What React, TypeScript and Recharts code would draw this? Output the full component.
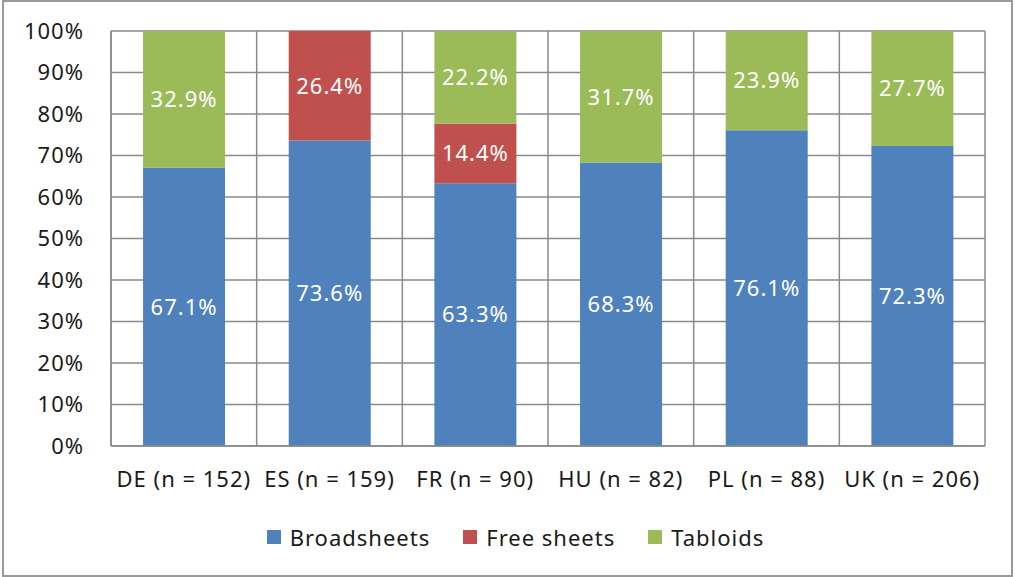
import { Bar, BarChart, CartesianGrid, LabelList, Legend, XAxis, YAxis } from "recharts";

const categories = ["DE (n = 152)", "ES (n = 159)", "FR (n = 90)", "HU (n = 82)", "PL (n = 88)", "UK (n = 206)"];
const broadsheets = [67.1, 73.6, 63.3, 68.3, 76.1, 72.3];
const freeSheets = [0, 26.4, 14.4, 0, 0, 0];
const tabloids = [32.9, 0, 22.2, 31.7, 23.9, 27.7];
const yTicks = [0, 10, 20, 30, 40, 50, 60, 70, 80, 90, 100];

const series = [
  { key: "broadsheets", name: "Broadsheets", color: "#4F81BD" },
  { key: "freeSheets", name: "Free sheets", color: "#C0504D" },
  { key: "tabloids", name: "Tabloids", color: "#9BBB59" },
];

const data = categories.map((name, i) => ({
  name,
  broadsheets: broadsheets[i],
  freeSheets: freeSheets[i],
  tabloids: tabloids[i],
}));

const FONT = "'Noto Sans', sans-serif";
const GRID = "#8a8a8a";

function pctLabel(value: unknown): string {
  const v = Number(value);
  return v ? `${v.toFixed(1)}%` : "";
}

function LegendContent() {
  return (
    <div
      style={{
        display: "flex",
        justifyContent: "center",
        height: 30,
        lineHeight: "30px",
        paddingLeft: 46,
        fontFamily: FONT,
        fontSize: 22,
        letterSpacing: 1,
        color: "#1a1a1a",
      }}
    >
      {series.map((s, i) => (
        <span key={s.key} style={{ display: "flex", alignItems: "center", marginLeft: i ? 33 : 0 }}>
          <span style={{ width: 14, height: 14, background: s.color, marginRight: 9 }} />
          {s.name}
        </span>
      ))}
    </div>
  );
}

export default function App() {
  return (
    <div style={{ position: "absolute", left: 0, top: 0, width: 1015, height: 577, background: "#fff" }}>
      <div
        style={{
          position: "absolute",
          left: 2,
          top: 0,
          width: 1011,
          height: 577,
          boxSizing: "border-box",
          border: "2px solid #9a9a9a",
        }}
      />
      <BarChart
        width={1015}
        height={577}
        data={data}
        margin={{ top: 31, right: 30, left: 0, bottom: 25 }}
        barCategoryGap="22%"
        style={{ position: "absolute", left: 0, top: 0 }}
      >
        <CartesianGrid
          stroke={GRID}
          strokeWidth={1.5}
          verticalCoordinatesGenerator={({ offset }: any) =>
            categories.map((_, i) => offset.left + (offset.width * i) / categories.length).concat(offset.left + offset.width)
          }
        />
        <XAxis
          dataKey="name"
          tickLine={false}
          axisLine={{ stroke: GRID, strokeWidth: 1.5 }}
          tickMargin={19}
          height={76}
          interval={0}
          tick={{ fontFamily: FONT, fontSize: 22, fill: "#1a1a1a", letterSpacing: 1 }}
        />
        <YAxis
          domain={[0, 100]}
          ticks={yTicks}
          tickFormatter={(v: number) => `${v}%`}
          tickLine={false}
          axisLine={{ stroke: GRID, strokeWidth: 1.5 }}
          width={111}
          tickMargin={21}
          tick={{ fontFamily: FONT, fontSize: 22, fill: "#1a1a1a", letterSpacing: 1 }}
        />
        <Legend verticalAlign="bottom" height={30} content={<LegendContent />} />
        {series.map((s) => (
          <Bar key={s.key} dataKey={s.key} name={s.name} stackId="a" fill={s.color} isAnimationActive={false}>
            <LabelList
              dataKey={s.key}
              position="center"
              formatter={pctLabel}
              style={{ fontFamily: FONT, fontSize: 22, fill: "#ffffff", letterSpacing: 1 }}
            />
          </Bar>
        ))}
      </BarChart>
    </div>
  );
}
